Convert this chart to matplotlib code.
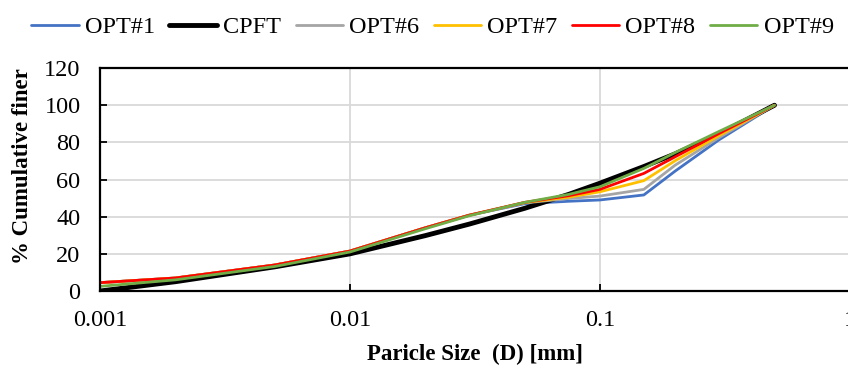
import numpy as np
import matplotlib
matplotlib.use("Agg")
import matplotlib.pyplot as plt
from matplotlib.ticker import FixedLocator, FixedFormatter, NullLocator

# particle size (mm) and cumulative % finer
size_mm = [0.001, 0.002, 0.005, 0.01, 0.02, 0.03, 0.05, 0.075, 0.1, 0.15, 0.2, 0.3, 0.5]

opt1 = [4.5, 7.0, 14.0, 21.5, 34.0, 40.8, 47.0, 48.3, 49.0, 51.7, 64.5, 81.4, 100]
cpft = [0.0, 5.0, 13.0, 20.0, 29.8, 36.0, 44.5, 52.0, 58.0, 67.0, 73.8, 84.6, 100]
opt6 = [4.5, 7.0, 14.0, 21.5, 34.0, 40.8, 47.4, 49.8, 51.1, 54.7, 67.7, 82.6, 100]
opt7 = [4.5, 7.0, 14.0, 21.5, 34.0, 40.8, 47.6, 50.5, 53.4, 59.4, 70.1, 83.7, 100]
opt8 = [4.5, 7.0, 14.0, 21.5, 34.0, 40.8, 47.7, 51.3, 54.7, 63.3, 72.2, 84.8, 100]
opt9 = [2.5, 6.0, 13.2, 21.0, 33.5, 40.5, 47.7, 52.0, 56.1, 66.0, 74.5, 85.9, 100]

names = ["OPT#1", "CPFT", "OPT#6", "OPT#7", "OPT#8", "OPT#9"]
series = [opt1, cpft, opt6, opt7, opt8, opt9]
colors = ["#4472C4", "#000000", "#A5A5A5", "#FFC000", "#FF0000", "#70AD47"]
widths = [2.0, 3.5, 2.0, 2.0, 2.0, 2.0]

x_ticks = [0.001, 0.01, 0.1, 1]
x_labels = ["0.001", "0.01", "0.1", "1"]
y_ticks = [0, 20, 40, 60, 80, 100, 120]

plt.rcParams["font.family"] = ["Liberation Serif", "DejaVu Serif"]

fig = plt.figure(figsize=(8.48, 3.70), dpi=100)
ax = fig.add_axes([0.118, 0.2135, 0.884, 0.6025])

for name, vals, c, lw in zip(names, series, colors, widths):
    ax.plot(size_mm, vals, color=c, lw=lw, label=name, solid_capstyle="round",
            solid_joinstyle="round")

ax.set_xscale("log")
ax.set_xlim(0.001, 1)
ax.set_ylim(0, 120)
ax.xaxis.set_major_locator(FixedLocator(x_ticks))
ax.xaxis.set_major_formatter(FixedFormatter(x_labels))
ax.xaxis.set_minor_locator(NullLocator())
ax.set_yticks(y_ticks)

ax.grid(True, color="#D9D9D9", lw=1.3)
ax.set_axisbelow(True)
ax.tick_params(axis="both", direction="in", length=5, width=1.3, labelsize=17.5, color="black")
ax.tick_params(axis="x", pad=14)
ax.tick_params(axis="y", pad=14)

for s in ["left", "bottom", "top"]:
    ax.spines[s].set_color("black")
    ax.spines[s].set_linewidth(1.6)
ax.spines["right"].set_visible(False)

ax.set_xlabel("Paricle Size  (D) [mm]", fontsize=16.5, fontweight="bold", labelpad=9)
fig.text(0.026, 0.55, "% Cumulative finer", rotation=90, fontsize=16.5,
         fontweight="bold", ha="center", va="center")

fig.legend(loc="upper center", bbox_to_anchor=(0.51, 1.015), ncol=6, frameon=False,
           fontsize=17.5, handlelength=1.95, handletextpad=0.25, columnspacing=0.6)

fig.savefig("out.png", dpi=100)
